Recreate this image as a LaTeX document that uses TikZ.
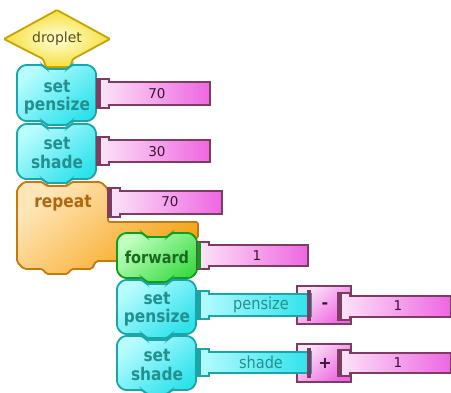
\documentclass[tikz,border=0pt]{standalone}
\usepackage{fontspec}
\setmainfont{DejaVu Sans}
\newfontfamily\tngfont[FakeStretch=0.88]{DejaVu Sans}
\definecolor{cyanB}{HTML}{1BA5A8}
\definecolor{cyanL}{HTML}{B8FCFF}
\definecolor{cyanD}{HTML}{2EE2EC}
\definecolor{cyanT}{HTML}{23908F}
\definecolor{greenB}{HTML}{0F9E1A}
\definecolor{greenL}{HTML}{C0FFC0}
\definecolor{greenD}{HTML}{3FDC48}
\definecolor{greenT}{HTML}{1A6A20}
\definecolor{orB}{HTML}{C47A12}
\definecolor{orL}{HTML}{FFE6B8}
\definecolor{orD}{HTML}{F6A010}
\definecolor{orT}{HTML}{B0660E}
\definecolor{pkB}{HTML}{7E3D60}
\definecolor{pkL}{HTML}{FCE6F8}
\definecolor{pkD}{HTML}{EE66E2}
\definecolor{pkT}{HTML}{3A1530}
\definecolor{yeB}{HTML}{C9A200}
\definecolor{yeL}{HTML}{FFFFD8}
\definecolor{yeD}{HTML}{F5E040}
\definecolor{yeT}{HTML}{5E4E10}
% command block: #1 left, #2 right, #3 top, #4 bottom, #5 style
\newcommand\tngCmd[5]{%
 \draw[#5] ({#1},{#3+6}) -- ({#1+6},{#3}) -- ({#1+26},{#3}) -- ({#1+29},{#3+4}) -- ({#1+51},{#3+4}) -- ({#1+54},{#3}) -- ({#2-6},{#3}) -- ({#2},{#3+6}) -- ({#2},{#4-6}) -- ({#2-6},{#4}) -- ({#1+54},{#4}) -- ({#1+51},{#4+4}) -- ({#1+29},{#4+4}) -- ({#1+26},{#4}) -- ({#1+6},{#4}) -- ({#1},{#4-6}) -- cycle;}
% argument bar: #1 x0, #2 x1, #3 top, #4 bottom, #5 style, #6 plug colour
\newcommand\tngBar[6]{%
 \draw[#5] ({#1},{#3-3}) -- ({#1+12},{#3-3}) -- ({#1+12},{#3}) -- ({#2},{#3}) -- ({#2},{#4}) -- ({#1+12},{#4}) -- ({#1+12},{#4+3}) -- ({#1},{#4+3}) -- cycle;
 \fill[#6] ({#1},{#3-3}) rectangle ({#1+4},{#4+3});}
\tikzset{
 cyanblk/.style={draw=cyanB, line width=1.8pt, rounded corners=3pt, top color=cyanL, bottom color=cyanD, shading angle=40},
 greenblk/.style={draw=greenB, line width=1.8pt, rounded corners=3pt, top color=greenL, bottom color=greenD, shading angle=40},
 orblk/.style={draw=orB, line width=1.8pt, rounded corners=2pt, top color=orL, bottom color=orD, shading angle=40},
 pkbar/.style={draw=pkB, line width=1.4pt, left color=pkL, right color=pkD},
 cybar/.style={draw=cyanB, line width=1.4pt, left color=cyanL, right color=cyanD},
 opblk/.style={draw=pkB, line width=1.4pt, top color=pkL, bottom color=pkD, shading angle=40},
 blktxt/.style={font=\tngfont\fontsize{17.5}{18.5}\selectfont\bfseries, align=center, inner sep=0pt},
 numtxt/.style={font=\fontsize{13.5}{15}\selectfont, text=pkT, inner sep=0pt},
 gettxt/.style={font=\tngfont\fontsize{16.5}{18}\selectfont, text=cyanT, inner sep=0pt},
}
\begin{document}
\begin{tikzpicture}[x=1pt,y=-1pt]
\useasboundingbox (0,0) rectangle (451,392);
\fill[white] (0,0) rectangle (451,392);
% droplet
\draw[draw=yeB, line width=1.8pt, inner color=yeL, outer color=yeD, rounded corners=1pt]
 (4,39) -- (57,10) -- (110,39) -- (73,59) -- (70,67) -- (46,67) -- (43,59) -- cycle;
\node[font=\fontsize{14}{16}\selectfont, text=yeT, inner sep=0pt] (droplet) at (57,39) {droplet};
% set pensize
\tngCmd{17}{96}{65}{121}{cyanblk}
\tngBar{97}{210}{82}{105}{pkbar}{pkB}
\node[blktxt, text=cyanT] (sp1) at (57,97) {set\\pensize};
\node[numtxt] (v70a) at (157,93.5) {70};
% set shade
\tngCmd{17}{96}{124}{179}{cyanblk}
\tngBar{97}{210}{140}{162}{pkbar}{pkB}
\node[blktxt, text=cyanT] (ss1) at (57,153) {set\\shade};
\node[numtxt] (v30) at (157,151.5) {30};
% repeat
\draw[orblk] (17,189) -- (24,182) -- (43,182) -- (46,186) -- (68,186) -- (71,182) -- (101,182) -- (108,189) -- (108,222) -- (198,222) -- (198,238) -- (118,238) -- (118,261) -- (96,261) -- (92,269) -- (71,269) -- (68,274) -- (46,274) -- (43,269) -- (24,269) -- (17,262) -- cycle;
\tngBar{108}{222}{191}{214}{pkbar}{pkB}
\node[text=orT, font=\tngfont\fontsize{17.5}{19}\selectfont\bfseries, inner sep=0pt] (rep) at (63,203) {repeat};
\node[numtxt] (v70b) at (170,202) {70};
% forward
\tngCmd{117}{197}{233}{278}{greenblk}
\tngBar{197}{308}{245}{266}{pkbar}{greenB}
\node[text=greenT, font=\tngfont\fontsize{16.5}{18}\selectfont\bfseries, inner sep=0pt] (fwd) at (157,257) {forward};
\node[numtxt] (v1a) at (257,256) {1};
% set pensize (inner)
\tngCmd{117}{196}{280}{334}{cyanblk}
\draw[opblk] (297,286) rectangle (351,324);
\tngBar{197}{311}{294}{316}{cybar}{cyanB}
\fill[pkB] (307,290) rectangle (311,321);
\tngBar{338}{451}{296}{317}{pkbar}{pkB}
\node[blktxt, text=cyanT] (sp2) at (157,309) {set\\pensize};
\node[gettxt] (gps) at (261,305) {pensize};
\node[font=\fontsize{16}{18}\selectfont\bfseries, text=pkT, inner sep=0pt] (minus) at (325,306) {-};
\node[numtxt] (v1b) at (398,306) {1};
% set shade (inner)
\tngCmd{117}{196}{336}{390}{cyanblk}
\draw[opblk] (297,344) rectangle (351,382);
\tngBar{197}{311}{352}{373}{cybar}{cyanB}
\fill[pkB] (307,348) rectangle (311,378);
\tngBar{338}{451}{353}{373}{pkbar}{pkB}
\node[blktxt, text=cyanT] (ss2) at (157,365) {set\\shade};
\node[gettxt] (gsh) at (261,362) {shade};
\node[font=\fontsize{16}{18}\selectfont\bfseries, text=pkT, inner sep=0pt] (plus) at (325,363) {+};
\node[numtxt] (v1c) at (398,363) {1};
\end{tikzpicture}
\end{document}
